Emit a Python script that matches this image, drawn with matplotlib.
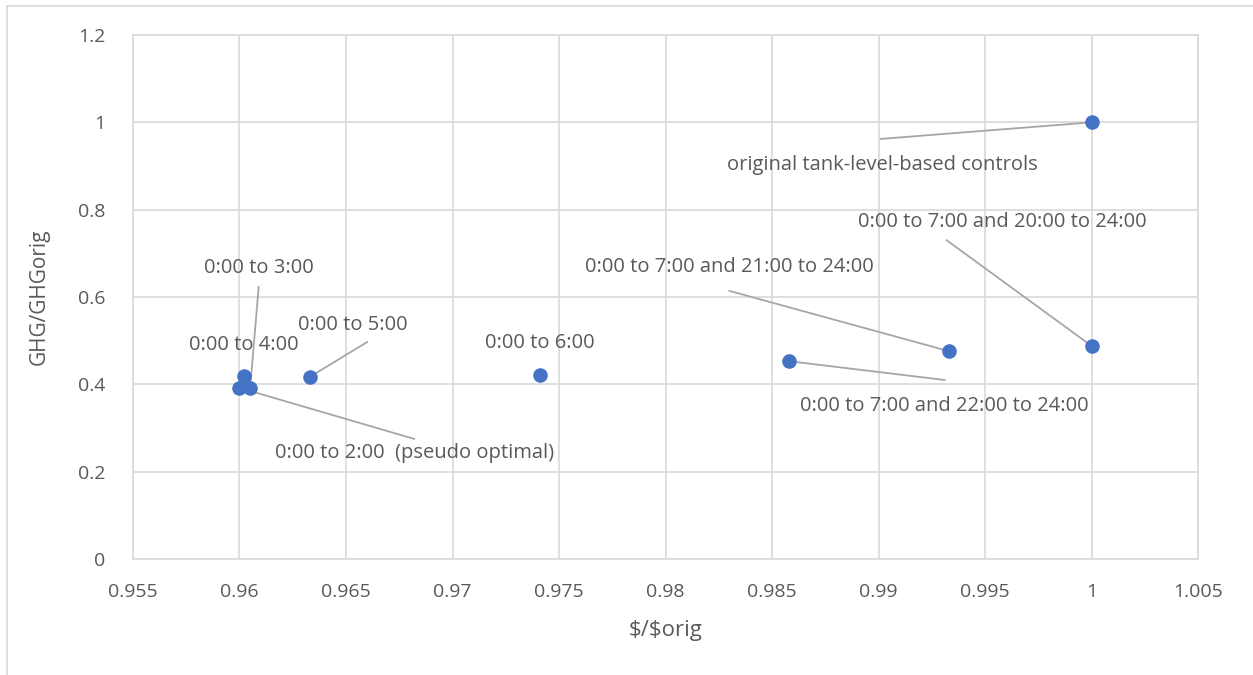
import matplotlib.pyplot as plt
from matplotlib.lines import Line2D

# cost ratio vs GHG ratio for each pumping schedule
labels = ['original tank-level-based controls',
          '0:00 to 7:00 and 20:00 to 24:00',
          '0:00 to 7:00 and 21:00 to 24:00',
          '0:00 to 7:00 and 22:00 to 24:00',
          '0:00 to 6:00',
          '0:00 to 5:00',
          '0:00 to 4:00',
          '0:00 to 3:00',
          '0:00 to 2:00  (pseudo optimal)']
cost = [1.0, 1.0, 0.9933, 0.9858, 0.9741, 0.9633, 0.9602, 0.9605, 0.9600]
ghg = [1.0, 0.488, 0.476, 0.453, 0.421, 0.417, 0.418, 0.392, 0.392]

# where each label sits, and where its leader line starts (None = no leader)
label_pos = [(0.9902, 0.902), (0.9958, 0.772), (0.9830, 0.669), (0.9931, 0.350),
             (0.9741, 0.495), (0.9653, 0.536), (0.9602, 0.490), (0.9609, 0.666),
             (0.9682, 0.243)]
leader_start = [(0.9901, 0.962), (0.9932, 0.730), (0.9830, 0.614), (0.9931, 0.410),
                None, (0.9660, 0.497), None, (0.9609, 0.623), (0.9682, 0.275)]

grey = '#595959'
plt.rcParams['font.family'] = ['Open Sans', 'DejaVu Sans']

fig = plt.figure(figsize=(12.53, 6.75), dpi=100)
ax = fig.add_axes([133 / 1253, 1 - 559 / 675, (1198 - 133) / 1253, (559 - 35) / 675])

ax.set_xlim(0.955, 1.005)
ax.set_ylim(0, 1.2)
ax.set_xticks([0.955, 0.96, 0.965, 0.97, 0.975, 0.98, 0.985, 0.99, 0.995, 1.0, 1.005])
ax.set_xticklabels(['0.955', '0.96', '0.965', '0.97', '0.975', '0.98', '0.985',
                    '0.99', '0.995', '1', '1.005'])
ax.set_yticks([0, 0.2, 0.4, 0.6, 0.8, 1.0, 1.2])
ax.set_yticklabels(['0', '0.2', '0.4', '0.6', '0.8', '1', '1.2'])
ax.grid(True, color='#d9d9d9', linewidth=1.2)
ax.set_axisbelow(True)
for s in ax.spines.values():
    s.set_color('#d9d9d9')
    s.set_linewidth(1.2)
ax.tick_params(length=0, labelsize=14, colors=grey)
ax.tick_params(axis='x', pad=17)
ax.tick_params(axis='y', pad=20)

for i in range(len(labels)):
    if leader_start[i] is not None:
        ax.plot([leader_start[i][0], cost[i]], [leader_start[i][1], ghg[i]],
                color='#a6a6a6', linewidth=1.3, zorder=2)
ax.scatter(cost, ghg, s=110, color='#4472C4', zorder=3, linewidths=0)
for i in range(len(labels)):
    ax.text(label_pos[i][0], label_pos[i][1], labels[i], ha='center', va='center',
            fontsize=14.5, color=grey, zorder=4)

ax.set_xlabel('\\$/\\$orig', fontsize=16, color=grey, labelpad=14)
ax.set_ylabel('GHG/GHGorig', fontsize=15, color=grey, labelpad=20)

# outer chart border (left and top edges visible in the crop)
fig.add_artist(Line2D([7 / 1253, 7 / 1253], [0, 1 - 6 / 675], color='#d9d9d9', linewidth=1.2))
fig.add_artist(Line2D([7 / 1253, 1], [1 - 6 / 675, 1 - 6 / 675], color='#d9d9d9', linewidth=1.2))

fig.savefig('out.png', dpi=100)
